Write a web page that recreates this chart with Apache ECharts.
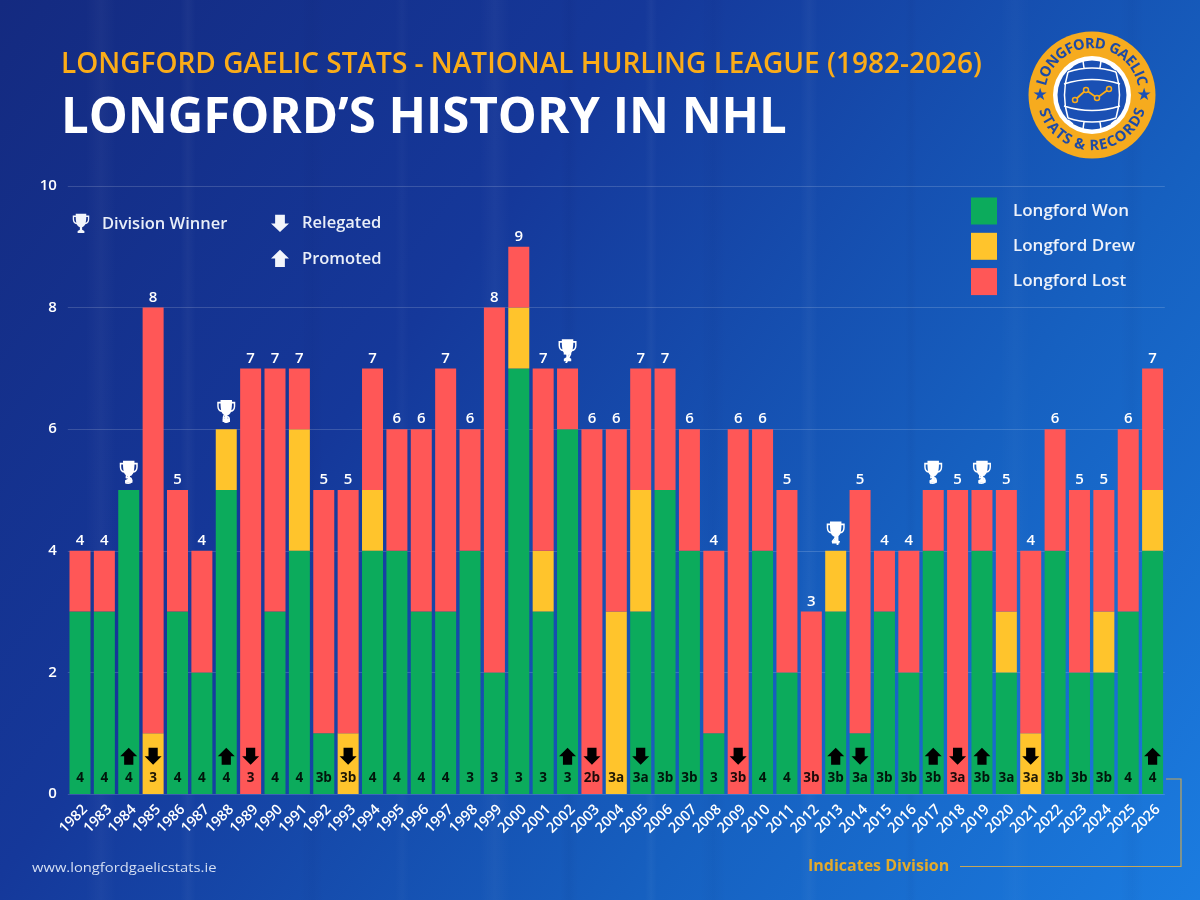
<!DOCTYPE html>
<html><head><meta charset="utf-8">
<style>html,body{margin:0;padding:0;background:#1650a8}#c{width:1200px;height:900px}</style>
<script src="https://cdn.jsdelivr.net/npm/echarts@6/dist/echarts.min.js"></script>
</head><body><div id="c"></div>
<script>
const years = ['1982','1983','1984','1985','1986','1987','1988','1989','1990','1991','1992','1993','1994','1995','1996','1997','1998','1999','2000','2001','2002','2003','2004','2005','2006','2007','2008','2009','2010','2011','2012','2013','2014','2015','2016','2017','2018','2019','2020','2021','2022','2023','2024','2025','2026'];
const won  = [3,3,5,0,3,2,5,0,3,4,1,0,4,4,3,3,4,2,7,3,6,0,0,3,5,4,1,0,4,2,0,3,1,3,2,4,0,4,2,0,4,2,2,3,4];
const drew = [0,0,0,1,0,0,1,0,0,2,0,1,1,0,0,0,0,0,1,1,0,0,3,2,0,0,0,0,0,0,0,1,0,0,0,0,0,0,1,1,0,0,1,0,1];
const lost = [1,1,0,7,2,2,0,7,4,1,4,4,2,2,3,4,2,6,1,3,1,6,3,2,2,2,3,6,2,3,3,0,4,1,2,1,5,1,2,3,2,3,2,3,2];
const totals = [4,4,5,8,5,4,6,7,7,7,5,5,7,6,6,7,6,8,9,7,7,6,6,7,7,6,4,6,6,5,3,4,5,4,4,5,5,5,5,4,6,5,5,6,7];
const divisions = ['4','4','4','3','4','4','4','3','4','4','3b','3b','4','4','4','4','3','3','3','3','3','2b','3a','3a','3b','3b','3','3b','4','4','3b','3b','3a','3b','3b','3b','3a','3b','3a','3a','3b','3b','3b','4','4'];
const promoted = ['1984','1988','2002','2013','2017','2019','2026'];
const relegated = ['1985','1989','1993','2003','2005','2009','2014','2018','2021'];
const winners = ['1984','1988','2002','2013','2017','2019'];

const GREEN='#0cab5c', YELLOW='#ffc42c', RED='#ff5757', ORANGE='#fbac18';
const FONT='"Open Sans","Noto Sans",sans-serif';
const TROPHY='M5 1h14v2h4v4.500c0 3.400-2.200 5.600-5.300 6.100-.9 1.700-2.300 2.900-4.200 3.400V20l3 1.500V24H7.500v-2.500l3-1.500V17c-1.900-.5-3.300-1.700-4.200-3.400C3.200 13.100 1 10.900 1 7.500V3h4V1zM2.800 4.800v2.700c0 2.200 1.200 3.800 3 4.300C5.300 10 5 7 5 4.800H2.800zM19 4.800c0 2.200-.3 5.200-.8 7 1.800-.5 3-2.100 3-4.300V4.800H19z';
const UP='M12 1 L24 12.500 L18.500 12.500 L18.500 24 L5.500 24 L5.500 12.500 L0 12.500 Z';
const DOWN='M5.500 1 L18.500 1 L18.500 12.500 L24 12.500 L12 24 L0 12.500 L5.500 12.500 Z';

echarts.graphic.registerShape('iconTrophy',echarts.graphic.extendPath(TROPHY,{}));
echarts.graphic.registerShape('iconUp',echarts.graphic.extendPath(UP,{}));
echarts.graphic.registerShape('iconDown',echarts.graphic.extendPath(DOWN,{}));
const BALL='M-24 -23Q0 -31 24 -23 M-24 23Q0 31 24 23 M-24 -23Q-31 0 -24 23 M24 -23Q31 0 24 23 M-28 -11Q0 -20 28 -11 M-28 11Q0 20 28 11 M-9 -34L-8 -27 M9 -34L8 -27 M-24 -25L-19 -29 M24 -25L19 -29 M-9 34L-8 27 M9 34L8 27 M-24 25L-19 29 M24 25L19 29';
echarts.graphic.registerShape('iconBall',echarts.graphic.extendPath(BALL,{}));

const chart = echarts.init(document.getElementById('c'), null, {renderer:'canvas'});
const measure=document.createElement('canvas').getContext('2d');

function arcText(str, cx, cy, r, midDeg, dir, font){
  measure.font=font;
  const w=[...str].map(c=>measure.measureText(c).width+0.3);
  const total=w.reduce((a,b)=>a+b,0);
  let run=-total/2;
  return [...str].map((c,i)=>{
    const off=run+w[i]/2; run+=w[i];
    const a=(midDeg+dir*off/r*180/Math.PI)*Math.PI/180;
    return {type:'text',x:cx+r*Math.sin(a),y:cy-r*Math.cos(a),rotation:dir>0?-a:-(a-Math.PI),z:22,silent:true,
      style:{text:c,fill:'#1d4aa6',font,align:'center',verticalAlign:'middle'}};
  });
}
function logo(){
  const cx=1092, cy=95, B='#1a50b4';
  const pts=[[cx-17,cy+5],[cx-6,cy-5],[cx+5,cy+3],[cx+17,cy-6]];
  const lf='700 14.500px '+FONT;
  return [
    {type:'circle',shape:{cx,cy,r:63.500},style:{fill:'#f6ab1e'},z:20,silent:true},
    {type:'circle',shape:{cx,cy,r:39},style:{fill:'#fff'},z:21,silent:true},
    {type:'circle',shape:{cx,cy,r:34.500},style:{fill:B},z:21,silent:true},
    {type:'iconBall',x:cx,y:cy,z:22,silent:true,style:{stroke:'#fff',lineWidth:1.500,fill:null}},
    {type:'polyline',z:23,silent:true,shape:{points:pts},style:{stroke:ORANGE,lineWidth:1.800,fill:null}},
    ...pts.map(p=>({type:'circle',z:24,silent:true,shape:{cx:p[0],cy:p[1],r:2.500},style:{fill:B,stroke:ORANGE,lineWidth:1.500}})),
    {type:'text',x:cx-52,y:cy+1,z:22,silent:true,style:{text:'★',fill:B,font:'17px "DejaVu Sans"',align:'center',verticalAlign:'middle'}},
    {type:'text',x:cx+52,y:cy+1,z:22,silent:true,style:{text:'★',fill:B,font:'17px "DejaVu Sans"',align:'center',verticalAlign:'middle'}},
    ...arcText('LONGFORD GAELIC',cx,cy,51,0,1,lf),
    ...arcText('STATS & RECORDS',cx,cy,51,180,-1,lf)
  ];
}
function txt(t,x,y,fill,font,extra){return Object.assign({type:'text',x,y,silent:true,z:10,style:{text:t,fill,font,align:'left',verticalAlign:'middle'}},extra||{});}
function icon(type,x,y,w,h,fill){return {type,silent:true,z:10,x:x-w/2,y:y-h/2,scaleX:w/24,scaleY:h/24,style:{fill}};}
const streakList=[[86,30,.03],[180,16,.03],[300,24,-.03],[395,14,.02],[480,30,.03],[560,18,-.04],[645,12,.03],[700,26,-.03],[800,18,.03],[905,12,-.03],[1000,30,.02],[1120,24,-.03]];
const streaks=streakList.map(([x,w,a])=>({type:'rect',silent:true,z:-5,shape:{x,y:0,width:w,height:900},
  style:{fill:{type:'linear',x:0,y:0,x2:1,y2:0,colorStops:[{offset:0,color:a>0?'rgba(255,255,255,0)':'rgba(0,0,60,0)'},{offset:.5,color:a>0?`rgba(255,255,255,${a})`:`rgba(0,0,60,${-a})`},{offset:1,color:a>0?'rgba(255,255,255,0)':'rgba(0,0,60,0)'}]}}}));

const graphic=[
  ...streaks,
  txt('LONGFORD GAELIC STATS - NATIONAL HURLING LEAGUE (1982-2026)',61,65,ORANGE,'600 28px '+FONT),
  txt('LONGFORD’S HISTORY IN NHL',61,119,'#ffffff','700 50px '+FONT,{scaleX:0.982}),
  icon('iconTrophy',81,223,18,20,'#f2f5fb'),
  txt('Division Winner',102,224,'#e9eef8','600 16.500px '+FONT),
  icon('iconDown',280,223,18,18,'#f2f5fb'),
  txt('Relegated',302,223,'#e9eef8','600 16.500px '+FONT),
  icon('iconUp',280,258,18,18,'#f2f5fb'),
  txt('Promoted',302,259,'#e9eef8','600 16.500px '+FONT),
  txt('www.longfordgaelicstats.ie',32,869,'#d5dff3','500 12px '+FONT,{scaleX:1.23}),
  txt('Indicates Division',808,866,'#e2aa2c','700 16px '+FONT),
  {type:'polyline',silent:true,z:10,shape:{points:[[960,866.500],[1181,866.500],[1181,779],[1166,779]]},style:{stroke:'#c4a659',lineWidth:1.200,fill:null}},
  ...logo()
];

const pos=y=>years.indexOf(y);
const barSeries=(name,data,color)=>({name,type:'bar',stack:'g',data,barWidth:21,itemStyle:{color},emphasis:{disabled:true},silent:true});

chart.setOption({
  animation:false,
  backgroundColor:{type:'linear',x:0,y:0,x2:1,y2:1,colorStops:[
    {offset:0,color:'#142a80'},{offset:0.35,color:'#15389a'},{offset:0.7,color:'#1660c0'},{offset:1,color:'#1b7ce0'}]},
  grid:{left:67.800,top:186,width:1097,height:608,containLabel:false},
  legend:{data:['Longford Won','Longford Drew','Longford Lost'],left:971,top:197.500,padding:0,orient:'vertical',icon:'rect',itemWidth:26,itemHeight:27,itemGap:8.300,selectedMode:false,
    textStyle:{color:'#eef2fa',fontFamily:FONT,fontWeight:600,fontSize:17,padding:[2,0,0,11]}},
  xAxis:{type:'category',data:years,axisTick:{show:false},axisLine:{show:false},
    axisLabel:{interval:0,rotate:45,color:'#ffffff',fontFamily:FONT,fontWeight:600,fontSize:14.500,margin:8,align:'right',verticalAlign:'top'}},
  yAxis:{type:'value',min:0,max:10,interval:2,axisLine:{show:false},axisTick:{show:false},
    splitLine:{lineStyle:{color:'rgba(255,255,255,0.16)',width:1}},
    axisLabel:{color:'#ffffff',fontFamily:FONT,fontWeight:600,fontSize:15,margin:11}},
  graphic,
  series:[
    barSeries('Longford Won',won,GREEN),
    barSeries('Longford Drew',drew,YELLOW),
    barSeries('Longford Lost',lost,RED),
    {name:'total',type:'scatter',z:5,silent:true,symbolSize:1,itemStyle:{color:'transparent',opacity:1},
      data:totals.map((v,i)=>[i,v]),
      label:{show:true,position:'top',distance:2,color:'#ffffff',fontFamily:FONT,fontWeight:600,fontSize:15,formatter:p=>p.value[1]}},
    {name:'division',type:'scatter',z:5,silent:true,symbolSize:1,itemStyle:{color:'transparent',opacity:1},
      data:divisions.map((d,i)=>[i,0.26]),
      label:{show:true,position:'inside',color:'rgba(0,0,0,0.88)',fontFamily:FONT,fontWeight:700,fontSize:13.500,
        formatter:p=>divisions[p.dataIndex]}},
    {name:'promoted',type:'scatter',z:6,silent:true,symbol:'path://'+UP,symbolSize:[17,17],itemStyle:{color:'#000',opacity:1},
      data:promoted.map(y=>[pos(y),0.62])},
    {name:'relegated',type:'scatter',z:6,silent:true,symbol:'path://'+DOWN,symbolSize:[17,17],itemStyle:{color:'#000',opacity:1},
      data:relegated.map(y=>[pos(y),0.62])},
    {name:'winner',type:'scatter',z:7,silent:true,symbol:'path://'+TROPHY,symbolSize:[18,22],itemStyle:{color:'#ffffff',opacity:1},
      data:winners.map(y=>[pos(y),totals[pos(y)]+0.3])}
  ]
});
</script></body></html>
